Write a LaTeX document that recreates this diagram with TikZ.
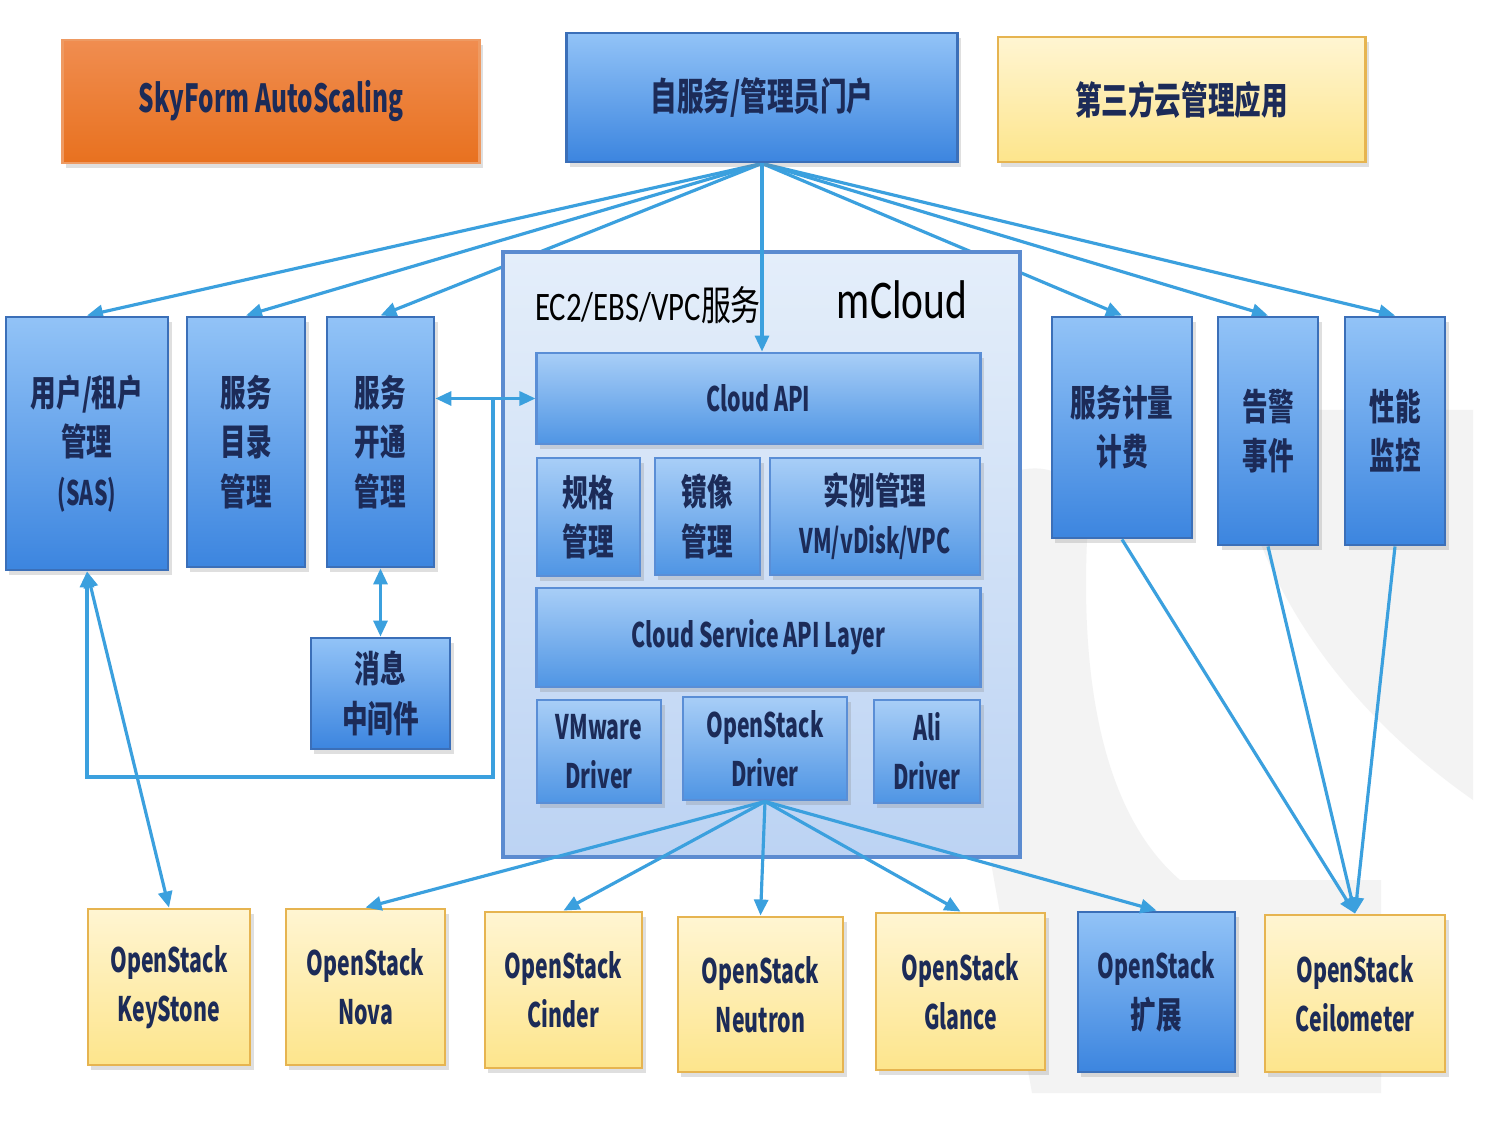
\documentclass[tikz,border=0pt]{standalone}
\usepackage{fontspec}
\setmainfont{Carlito}[FakeStretch=0.76]
\newfontfamily\latinb{Noto Sans CJK SC}[FakeStretch=0.63]
\newfontfamily\cjk{Noto Sans CJK SC}[FakeStretch=0.70]
\newfontfamily\cjkplain{Noto Sans CJK SC}[FakeStretch=0.74]
\newcommand\zh[1]{{\cjk\fontsize{10.4}{14}\selectfont #1}}
\usetikzlibrary{arrows.meta,shadows}

\definecolor{navy}{HTML}{1C2B58}
\definecolor{linkc}{HTML}{3BA0DE}
\definecolor{bluetop}{HTML}{92C3F7}
\definecolor{bluebot}{HTML}{3C85DF}
\definecolor{blueline}{HTML}{3B6FB8}
\definecolor{innertop}{HTML}{A8CEF7}
\definecolor{innerbot}{HTML}{4F95E4}
\definecolor{innerline}{HTML}{5A8ED6}
\definecolor{yellowtop}{HTML}{FFF5D2}
\definecolor{yellowbot}{HTML}{FDE58C}
\definecolor{yellowline}{HTML}{E6B450}
\definecolor{orangetop}{HTML}{F08D50}
\definecolor{orangebot}{HTML}{E8711F}
\definecolor{orangeline}{HTML}{EE9A62}
\definecolor{cloudtop}{HTML}{E4EEFA}
\definecolor{cloudbot}{HTML}{BCD3F3}
\definecolor{cloudline}{HTML}{5B8BD0}
\definecolor{wmark}{HTML}{F3F3F3}

\pgfdeclarelayer{bg}
\pgfsetlayers{bg,main}

\tikzset{
  box/.style={draw, rectangle, inner sep=0pt, align=center, text=navy,
    font=\latinb\bfseries\fontsize{9.6}{14}\selectfont, line width=0.8pt,
    drop shadow={opacity=0.25, shadow xshift=1pt, shadow yshift=-1.5pt}},
  bluebox/.style={box, draw=blueline, top color=bluetop, bottom color=bluebot},
  innerbox/.style={box, draw=innerline, top color=innertop, bottom color=innerbot},
  yellowbox/.style={box, draw=yellowline, top color=yellowtop, bottom color=yellowbot},
  orangebox/.style={box, draw=orangeline, top color=orangetop, bottom color=orangebot},
  link/.style={draw=linkc, line width=0.9pt, -{Triangle[length=1.6mm,width=1.4mm]}},
  twolink/.style={draw=linkc, line width=0.9pt,
    {Triangle[length=1.6mm,width=1.4mm]}-{Triangle[length=1.6mm,width=1.4mm]}}
}

\begin{document}
\begin{tikzpicture}[x=0.01cm,y=-0.01cm]
  \useasboundingbox (0,0) rectangle (1500,1125);

  % top row
  \node[orangebox, minimum width=4.16cm, minimum height=1.23cm] (auto) at (271,101.5) {\fontsize{11}{13}\selectfont SkyForm AutoScaling};
  \node[bluebox, minimum width=3.90cm, minimum height=1.29cm] (portal) at (762,97.5) {{\cjk\fontsize{10.8}{13}\selectfont 自服务/管理员门户}};
  \node[yellowbox, minimum width=3.67cm, minimum height=1.25cm] (third) at (1181.5,99.5) {{\cjk\fontsize{10.8}{13}\selectfont 第三方云管理应用}};

  % mCloud
  \node[draw=cloudline, line width=1.2pt, top color=cloudtop, bottom color=cloudbot,
    minimum width=5.17cm, minimum height=6.05cm, inner sep=0pt] (mcloud) at (761.5,554.5) {};
  \node[font=\fontsize{11.5}{13}\selectfont] (ec2) at (648,305) {EC2/EBS/VPC{\cjkplain 服务}};
  \node[font=\fontsize{15.5}{18}\selectfont] (mname) at (902,300) {mCloud};
  \node[innerbox, minimum width=4.43cm, minimum height=0.91cm] (cloudapi) at (758.5,398.5) {Cloud API};
  \node[innerbox, minimum width=1.03cm, minimum height=1.18cm] (spec) at (588.5,517) {\zh{规格}\\\zh{管理}};
  \node[innerbox, minimum width=1.05cm, minimum height=1.17cm] (image) at (707.5,516.5) {\zh{镜像}\\\zh{管理}};
  \node[innerbox, minimum width=2.10cm, minimum height=1.17cm] (inst) at (875,516.5) {\zh{实例管理}\\VM/vDisk/VPC};
  \node[innerbox, minimum width=4.43cm, minimum height=0.99cm] (svclayer) at (758.5,637.5) {Cloud Service API Layer};
  \node[innerbox, minimum width=1.24cm, minimum height=1.03cm] (vmware) at (599,751.5) {VMware\\Driver};
  \node[innerbox, minimum width=1.64cm, minimum height=1.03cm] (osdrv) at (765,748.5) {OpenStack\\Driver};
  \node[innerbox, minimum width=1.06cm, minimum height=1.03cm] (ali) at (927,751.5) {Ali\\Driver};

  % left column
  \node[bluebox, minimum width=1.62cm, minimum height=2.53cm] (user) at (87,443.5) {\zh{用户/租户}\\\zh{管理}\\(SAS)};
  \node[bluebox, minimum width=1.18cm, minimum height=2.50cm] (catalog) at (246,442) {\zh{服务}\\\zh{目录}\\\zh{管理}};
  \node[bluebox, minimum width=1.07cm, minimum height=2.50cm] (provision) at (380.5,442) {\zh{服务}\\\zh{开通}\\\zh{管理}};
  \node[bluebox, minimum width=1.39cm, minimum height=1.11cm] (mq) at (380.5,693.5) {\zh{消息}\\\zh{中间件}};

  % right column
  \node[bluebox, minimum width=1.40cm, minimum height=2.21cm] (billing) at (1122,427.5) {\zh{服务计量}\\\zh{计费}};
  \node[bluebox, minimum width=1.00cm, minimum height=2.28cm] (alarm) at (1268,431) {\zh{告警}\\\zh{事件}};
  \node[bluebox, minimum width=1.00cm, minimum height=2.28cm] (perf) at (1395,431) {\zh{性能}\\\zh{监控}};

  % bottom row
  \node[yellowbox, minimum width=1.62cm, minimum height=1.56cm] (keystone) at (169,987) {OpenStack\\KeyStone};
  \node[yellowbox, minimum width=1.59cm, minimum height=1.56cm] (nova) at (365.5,987) {OpenStack\\Nova};
  \node[yellowbox, minimum width=1.57cm, minimum height=1.56cm] (cinder) at (563.5,990) {OpenStack\\Cinder};
  \node[yellowbox, minimum width=1.65cm, minimum height=1.55cm] (neutron) at (760.5,994.5) {OpenStack\\Neutron};
  \node[yellowbox, minimum width=1.69cm, minimum height=1.57cm] (glance) at (960.5,991.5) {OpenStack\\Glance};
  \node[bluebox, minimum width=1.57cm, minimum height=1.60cm] (osext) at (1156.5,992) {OpenStack\\\zh{扩展}};
  \node[yellowbox, minimum width=1.80cm, minimum height=1.57cm] (ceilo) at (1355,993.5) {OpenStack\\Ceilometer};

  \begin{pgfonlayer}{bg}
    \fill[white] (0,0) rectangle (1500,1125);
    \fill[wmark] (1020,470) .. controls (1070,460) and (1090,500) .. (1087,540)
      .. controls (1080,700) and (1110,820) .. (1180,880) -- (1381,880) -- (1381,1093)
      -- (1032,1093) -- (990,857) -- (1020,857) -- cycle;
    \fill[wmark] (1230,410) .. controls (1240,560) and (1330,700) .. (1473,800) -- (1473,410) -- cycle;
    \foreach \t in {user,catalog,provision,billing,alarm,perf}
      \draw[link] (portal.south) -- (\t.north);
  \end{pgfonlayer}

  \draw[link] (portal.south) -- (portal.south |- cloudapi.north);
  \draw[twolink] (cloudapi.west) -- (cloudapi.west -| provision.east);
  \coordinate (jn) at (493,398.5);
  \coordinate (bend) at (493,777);
  \draw[link] (jn) -- (bend) -| (user.south);
  \draw[twolink] (user.south) -- (keystone.north);
  \draw[twolink] (provision.south) -- (mq.north);
  \foreach \t in {nova,cinder,neutron,glance,osext}
    \draw[link] (osdrv.south) -- (\t.north);
  \foreach \s in {billing,alarm,perf}
    \draw[link] (\s.south) -- (ceilo.north);
\end{tikzpicture}
\end{document}
